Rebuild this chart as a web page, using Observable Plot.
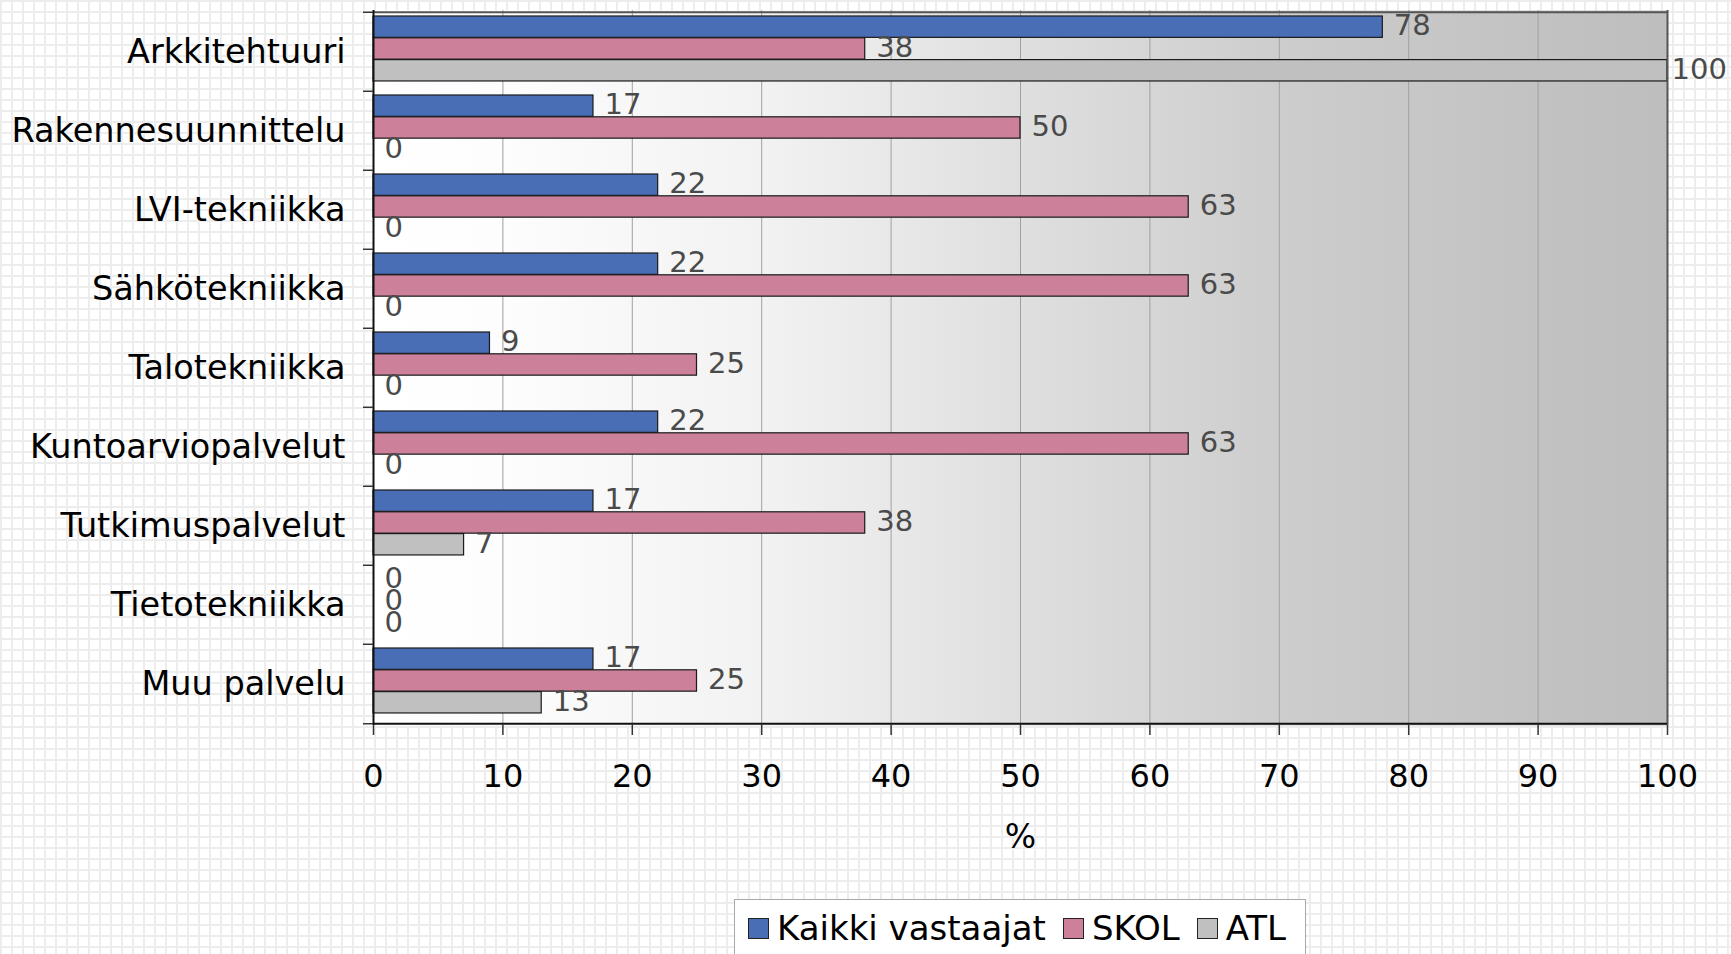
<!DOCTYPE html>
<html>
<head>
<meta charset="utf-8">
<script src="https://cdn.jsdelivr.net/npm/d3@7"></script>
<script src="https://cdn.jsdelivr.net/npm/@observablehq/plot@0.6"></script>
<style>
  html, body { margin: 0; padding: 0; width: 1731px; height: 954px; overflow: hidden; }
  body {
    font-family: "DejaVu Sans", Verdana, sans-serif;
    background-color: #ffffff;
    background-image:
      linear-gradient(#ededed 2px, transparent 2px),
      linear-gradient(90deg, #ededed 2px, transparent 2px);
    background-size: 11px 11px;
    position: relative;
  }
  #chart svg { display: block; background: transparent !important; }
  #legend {
    position: absolute; left: 734px; top: 899px; width: 572px; height: 80px;
    box-sizing: border-box; border: 1px solid #a8a8a8; background: #ffffff;
    display: flex; flex-wrap: nowrap; align-items: flex-start; padding: 8px 0 0 13px;
    font-size: 34px; color: #000; white-space: nowrap; overflow: visible;
  }
  .item { display: flex; align-items: center; margin-right: 17px; flex-shrink: 0; white-space: nowrap; }
  .sw { width: 19px; height: 19px; border: 1px solid #222; margin-right: 8px; flex-shrink: 0; }
</style>
</head>
<body>
<div id="chart"></div>
<div id="legend"></div>
<script>
const categories = ["Arkkitehtuuri", "Rakennesuunnittelu", "LVI-tekniikka", "Sähkötekniikka", "Talotekniikka", "Kuntoarviopalvelut", "Tutkimuspalvelut", "Tietotekniikka", "Muu palvelu"];
const seriesNames = ["Kaikki vastaajat", "SKOL", "ATL"];
const kaikki = [78, 17, 22, 22, 9, 22, 17, 0, 17];
const skol = [38, 50, 63, 63, 25, 63, 38, 0, 25];
const atl = [100, 0, 0, 0, 0, 0, 7, 0, 13];
const seriesColors = ["#4a6eb5", "#cc8099", "#c0c0c0"];
const xTicks = [0, 10, 20, 30, 40, 50, 60, 70, 80, 90, 100];

const seriesValues = [kaikki, skol, atl];
const xMax = xTicks[xTicks.length - 1];

const W = 1731, H = 880;
const mTop = 10, mBottom = 155, mLeft = 373, mRight = 64;
const bw = (H - mTop - mBottom) / categories.length;
const padTop = 4, barH = 21.8;

const marks = [
  Plot.frame({fill: "url(#bgGrad)", stroke: "none"}),
  Plot.ruleX(xTicks.slice(1, -1), {stroke: "#a0a0a0", strokeWidth: 1})
];

seriesValues.forEach((vals, i) => {
  const rows = categories.map((c, j) => ({category: c, value: vals[j]}));
  const top = padTop + barH * i;
  const bottom = bw - top - barH;
  marks.push(Plot.barX(rows, {
    x: "value", y: "category",
    fill: seriesColors[i], stroke: "#1a1a1a", strokeWidth: 1.2,
    insetTop: top, insetBottom: bottom
  }));
  const textOpts = {
    x: "value", y: "category", text: d => String(d.value),
    dy: top + barH / 2 - bw / 2 - 1,
    textAnchor: "start", fill: "#4a4a4a", fontSize: 29
  };
  marks.push(Plot.text(rows.filter(d => d.value < xMax), {...textOpts, dx: 11}));
  marks.push(Plot.text(rows.filter(d => d.value >= xMax), {...textOpts, dx: 4}));
});

marks.push(
  Plot.ruleY([categories[0]], {dy: -bw / 2, stroke: "#555", strokeWidth: 2}),
  Plot.ruleX([xMax], {stroke: "#555", strokeWidth: 2}),
  Plot.ruleY([categories[categories.length - 1]], {dy: bw / 2, stroke: "#111", strokeWidth: 2}),
  Plot.ruleX([0], {stroke: "#111", strokeWidth: 2}),
  Plot.axisY({tickSize: 0, tickPadding: 28, fontSize: 33.5, fill: "#000", label: null}),
  Plot.axisY({tickSize: 10, text: null, dy: -bw / 2, stroke: "#333", strokeWidth: 1.5, label: null}),
  Plot.axisY([categories[categories.length - 1]], {tickSize: 10, text: null, dy: bw / 2, stroke: "#333", strokeWidth: 1.5, label: null}),
  Plot.axisX({ticks: xTicks, tickSize: 10, tickPadding: 29, fontSize: 32, fill: "#000", stroke: "#333", strokeWidth: 1.5, label: null}),
  Plot.text(["%"], {frameAnchor: "bottom", dy: 122, fontSize: 33, fill: "#000"})
);

const svg = Plot.plot({
  width: W, height: H,
  marginTop: mTop, marginBottom: mBottom, marginLeft: mLeft, marginRight: mRight,
  style: {fontFamily: "DejaVu Sans, Verdana, sans-serif", background: "transparent", overflow: "visible"},
  x: {domain: [0, xMax], axis: null},
  y: {domain: categories, padding: 0, axis: null},
  marks
});

const ns = "http://www.w3.org/2000/svg";
const defs = document.createElementNS(ns, "defs");
defs.innerHTML = `<linearGradient id="bgGrad" x1="0" x2="1" y1="0" y2="0">
  <stop offset="0" stop-color="#ffffff"/>
  <stop offset="0.1" stop-color="#fdfdfd"/>
  <stop offset="0.3" stop-color="#f2f2f2"/>
  <stop offset="0.5" stop-color="#dfdfdf"/>
  <stop offset="0.7" stop-color="#cdcdcd"/>
  <stop offset="0.9" stop-color="#c2c2c2"/>
  <stop offset="1" stop-color="#bebebe"/>
</linearGradient>`;
svg.insertBefore(defs, svg.firstChild);
document.getElementById("chart").appendChild(svg);

const legend = d3.select("#legend");
seriesNames.forEach((name, i) => {
  const item = legend.append("div").attr("class", "item");
  item.append("div").attr("class", "sw").style("background", seriesColors[i]);
  item.append("span").text(name);
});
</script>
</body>
</html>
